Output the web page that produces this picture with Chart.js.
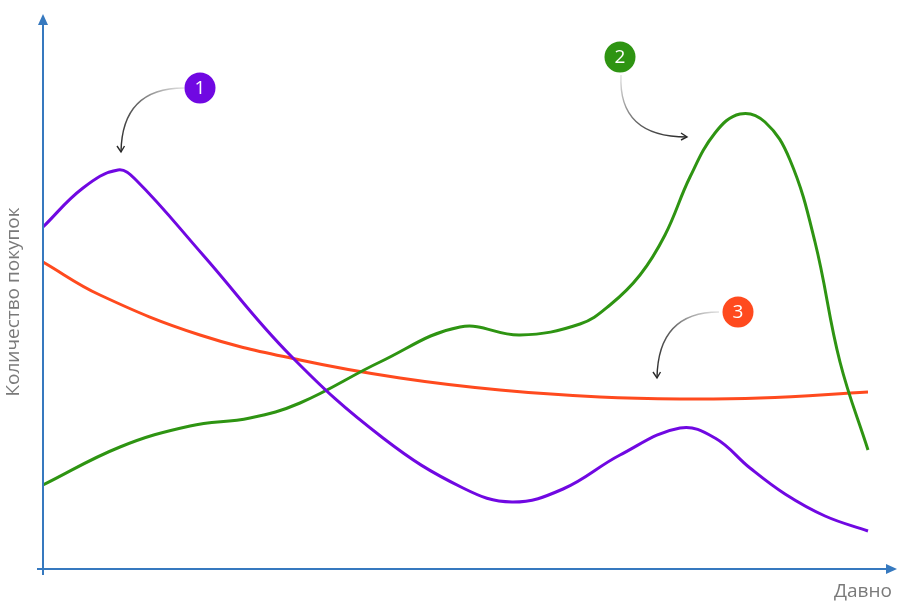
<!DOCTYPE html>
<html>
<head>
<meta charset="utf-8">
<script src="https://cdn.jsdelivr.net/npm/chart.js@4"></script>
<style>
html,body{margin:0;padding:0;background:#fff;}
#wrap{position:relative;width:908px;height:609px;}
canvas{display:block;}
</style>
</head>
<body>
<div id="wrap"><canvas id="c" width="908" height="609"></canvas></div>
<script>
// Axis titles
const yTitle = "Количество покупок";
const xTitle = "Давно";

// Series 1 (purple)
const purpleX = [0, 40, 75, 93, 160, 247, 340, 420, 469, 520, 577, 637, 672, 707, 742, 782, 825];
const purpleY = [342, 381, 399, 389, 314, 214, 131, 81, 67, 80, 114, 141, 131, 101, 75, 53, 38];
// Series 2 (green)
const greenX = [0, 77, 147, 207, 257, 337, 417, 477, 537, 567, 597, 622, 647, 672, 697, 722, 747, 772, 797, 825];
const greenY = [84, 122, 143, 151, 166, 207, 242, 234, 245, 264, 294, 334, 392, 436, 455, 447, 409, 327, 207, 119];
// Series 3 (red)
const redX = [0, 57, 157, 257, 357, 457, 557, 637, 717, 825];
const redY = [307, 274, 234, 209, 191, 179, 172, 170, 171, 177];

// Annotations (number, circle centre in data units)
const noteLabels = ["1", "2", "3"];
const noteX = [157, 577, 695];
const noteY = [481, 512, 257];

const colors = ["#7008E2", "#2E9412", "#FF4A1E"];

function pts(xs, ys){ return xs.map((x,i)=>({x:x, y:ys[i]})); }

const axisPlugin = {
  id:'axesArrows',
  afterDraw(chart){
    const ctx = chart.ctx;
    const xs = chart.scales.x, ys = chart.scales.y;
    const L = xs.getPixelForValue(0), B = ys.getPixelForValue(0);
    const R = xs.getPixelForValue(xs.max), T = ys.getPixelForValue(ys.max);
    ctx.save();
    ctx.strokeStyle = '#3679BF';
    ctx.fillStyle = '#3679BF';
    ctx.lineWidth = 2;
    ctx.beginPath();
    ctx.moveTo(L, B + 6); ctx.lineTo(L, T + 8);
    ctx.moveTo(L - 6, B); ctx.lineTo(R - 8, B);
    ctx.stroke();
    ctx.beginPath();
    ctx.moveTo(L, T - 1); ctx.lineTo(L - 5, T + 10); ctx.lineTo(L + 5, T + 10); ctx.closePath(); ctx.fill();
    ctx.beginPath();
    ctx.moveTo(R + 2, B); ctx.lineTo(R - 9, B - 5); ctx.lineTo(R - 9, B + 5); ctx.closePath(); ctx.fill();

    // titles
    ctx.fillStyle = '#7a7a7a';
    ctx.font = '19px "Open Sans", sans-serif';
    ctx.textAlign = 'center';
    ctx.textBaseline = 'middle';
    ctx.fillText(xTitle, R - 32, B + 23);
    ctx.save();
    ctx.translate(L - 29, (T + B) / 2 + 10);
    ctx.rotate(-Math.PI / 2);
    ctx.fillText(yTitle, 0, 0);
    ctx.restore();

    // annotation arrows
    const P = (x, y) => [xs.getPixelForValue(x), ys.getPixelForValue(y)];
    function curveArrow(s, c, e, dir){
      const g = ctx.createLinearGradient(s[0], s[1], e[0], e[1]);
      g.addColorStop(0, 'rgba(60,60,60,0.15)');
      g.addColorStop(0.5, 'rgba(60,60,60,0.8)');
      g.addColorStop(1, 'rgba(40,40,40,1)');
      ctx.strokeStyle = g;
      ctx.lineWidth = 1.4;
      ctx.beginPath();
      ctx.moveTo(s[0], s[1]);
      ctx.quadraticCurveTo(c[0], c[1], e[0], e[1]);
      ctx.stroke();
      ctx.strokeStyle = '#2a2a2a';
      ctx.lineWidth = 1.4;
      ctx.beginPath();
      if (dir === 'down'){
        ctx.moveTo(e[0] - 4, e[1] - 6); ctx.lineTo(e[0], e[1]); ctx.lineTo(e[0] + 3.5, e[1] - 6);
      } else {
        ctx.moveTo(e[0] - 6, e[1] - 4); ctx.lineTo(e[0], e[1]); ctx.lineTo(e[0] - 6, e[1] + 3);
      }
      ctx.stroke();
    }
    const c1 = P(noteX[0], noteY[0]), c2 = P(noteX[1], noteY[1]), c3 = P(noteX[2], noteY[2]);
    curveArrow([c1[0] - 16, c1[1]], [c1[0] - 78, c1[1]], [c1[0] - 79, c1[1] + 64], 'down');
    curveArrow([c2[0] + 1, c2[1] + 18], [c2[0] - 2, c2[1] + 80], [c2[0] + 67, c2[1] + 80], 'right');
    curveArrow([c3[0] - 19, c3[1]], [c3[0] - 80, c3[1]], [c3[0] - 81, c3[1] + 66], 'down');

    // circles
    [c1, c2, c3].forEach((c, i) => {
      ctx.fillStyle = colors[i];
      ctx.beginPath(); ctx.arc(c[0], c[1], 15.5, 0, Math.PI * 2); ctx.fill();
      ctx.fillStyle = '#fff';
      ctx.font = '19px "Open Sans", sans-serif';
      ctx.textAlign = 'center'; ctx.textBaseline = 'middle';
      ctx.fillText(noteLabels[i], c[0], c[1] + 1);
    });
    ctx.restore();
  }
};

const common = {fill:false, borderWidth:3, pointRadius:0, tension:0.4};

new Chart(document.getElementById('c'), {
  type:'line',
  data:{
    datasets:[
      Object.assign({data:pts(purpleX, purpleY), borderColor:colors[0]}, common),
      Object.assign({data:pts(greenX, greenY), borderColor:colors[1]}, common),
      Object.assign({data:pts(redX, redY), borderColor:colors[2]}, common)
    ]
  },
  options:{
    responsive:false,
    animation:false,
    layout:{padding:{left:43, top:15, right:13, bottom:40}},
    plugins:{legend:{display:false}, tooltip:{enabled:false}},
    scales:{
      x:{type:'linear', min:0, max:852, display:false},
      y:{type:'linear', min:0, max:554, display:false}
    }
  },
  plugins:[axisPlugin]
});
</script>
</body>
</html>
